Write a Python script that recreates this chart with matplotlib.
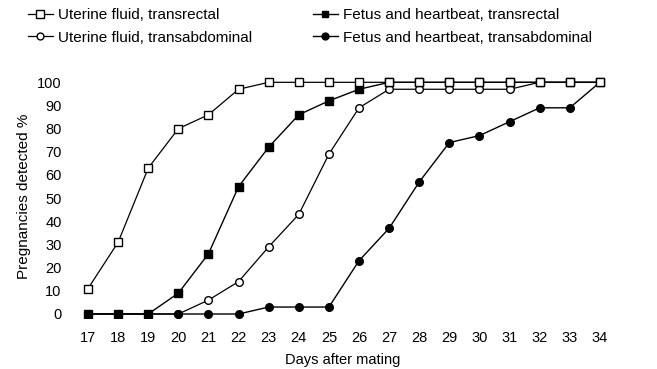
import matplotlib
matplotlib.use("Agg")
import matplotlib.pyplot as plt

plt.rcParams['font.family'] = ['Liberation Sans', 'DejaVu Sans']

days = list(range(17, 35))
uf_rectal = [11, 31, 63, 80, 86, 97, 100, 100, 100, 100, 100, 100, 100, 100, 100, 100, 100, 100]
uf_abdominal = [0, 0, 0, 0, 6, 14, 29, 43, 69, 89, 97, 97, 97, 97, 97, 100, 100, 100]
fh_rectal = [0, 0, 0, 9, 26, 55, 72, 86, 92, 97, 100, 100, 100, 100, 100, 100, 100, 100]
fh_abdominal = [0, 0, 0, 0, 0, 0, 3, 3, 3, 23, 37, 57, 74, 77, 83, 89, 89, 100]

yticks = list(range(0, 101, 10))

fig = plt.figure(figsize=(6.57, 3.69), dpi=100)
ax = fig.add_axes([0.1065, 0.1382, 0.8295, 0.6585])

h2, = ax.plot(days, uf_abdominal, color='black', lw=0.9, marker='o', ms=5.5,
              mfc='white', mec='black', mew=1.0, label='Uterine fluid, transabdominal')
h4, = ax.plot(days, fh_abdominal, color='black', lw=1.0, marker='o', ms=5.5,
              mfc='black', mec='black', label='Fetus and heartbeat, transabdominal')
h3, = ax.plot(days, fh_rectal, color='black', lw=1.0, marker='s', ms=5.5,
              mfc='black', mec='black', label='Fetus and heartbeat, transrectal')
h1, = ax.plot(days, uf_rectal, color='black', lw=0.9, marker='s', ms=6,
              mfc='white', mec='black', mew=1.0, label='Uterine fluid, transrectal')

ax.set_xlim(16.4, 34.5)
ax.set_ylim(-1.73, 103.15)
ax.set_xticks(days)
ax.set_yticks(yticks)
ax.tick_params(length=0, labelsize=10.5)
ax.tick_params(axis='x', pad=9)
ax.tick_params(axis='y', pad=6)
for s in ax.spines.values():
    s.set_visible(False)

ax.set_xlabel('Days after mating', fontsize=10.5, labelpad=6)
ax.set_ylabel('Pregnancies detected %', fontsize=11, labelpad=4)

fig.legend([h1, h2, h3, h4],
           [h1.get_label(), h2.get_label(), h3.get_label(), h4.get_label()],
           loc='upper left', bbox_to_anchor=(0.022, 1.015), ncol=2, frameon=False,
           fontsize=11, handlelength=1.6, handletextpad=0.35, columnspacing=4.0,
           labelspacing=0.55, markerscale=0.9)

fig.savefig('out.png', dpi=100)
